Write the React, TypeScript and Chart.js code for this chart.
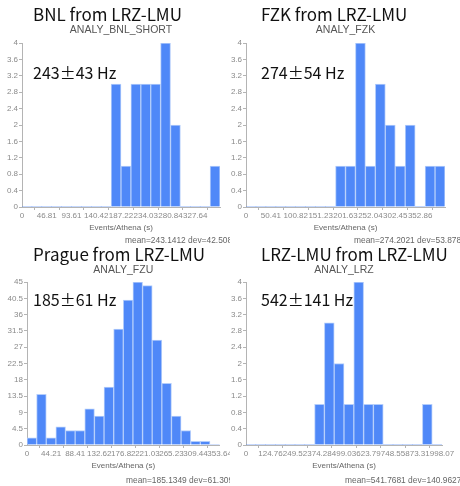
import React, { useEffect, useRef } from "react";
import { Chart, registerables } from "chart.js";

Chart.register(...registerables);

// ---- data ----
const BNL_COUNTS = [0, 0, 0, 0, 0, 0, 0, 0, 0, 3, 1, 3, 3, 3, 4, 2, 0, 0, 0, 1];
const BNL_XMAX = 374.45;
const BNL_XTICKS = ["0", "46.81", "93.61", "140.42", "187.22", "234.03", "280.84", "327.64"];

const FZK_COUNTS = [0, 0, 0, 0, 0, 0, 0, 0, 0, 1, 1, 4, 1, 3, 2, 1, 2, 0, 1, 1];
const FZK_XMAX = 403.27;
const FZK_XTICKS = ["0", "50.41", "100.82", "151.23", "201.63", "252.04", "302.45", "352.86"];

const FZU_COUNTS = [2, 14, 2, 5, 4, 4, 10, 8, 16, 32, 40, 45, 44, 29, 17, 8, 4, 1, 1, 0];
const FZU_XMAX = 353.64;
const FZU_XTICKS = ["0", "44.21", "88.41", "132.62", "176.82", "221.03", "265.23", "309.44", "353.64"];

const LRZ_COUNTS = [0, 0, 0, 0, 0, 0, 0, 1, 3, 2, 1, 4, 1, 1, 0, 0, 0, 0, 1, 0];
const LRZ_XMAX = 998.07;
const LRZ_XTICKS = ["0", "124.76", "249.52", "374.28", "499.03", "623.79", "748.55", "873.31", "998.07"];

const YTICKS_SMALL = ["0", "0.4", "0.8", "1.2", "1.6", "2", "2.4", "2.8", "3.2", "3.6", "4"];
const YTICKS_FZU = ["0", "4.5", "9", "13.5", "18", "22.5", "27", "31.5", "36", "40.5", "45"];

const TITLES = ["BNL from LRZ-LMU", "FZK from LRZ-LMU", "Prague from LRZ-LMU", "LRZ-LMU from LRZ-LMU"];
const SUBTITLES = ["ANALY_BNL_SHORT", "ANALY_FZK", "ANALY_FZU", "ANALY_LRZ"];
const RATES = ["243±43 Hz", "274±54 Hz", "185±61 Hz", "542±141 Hz"];
const STATS = [
  "mean=243.1412 dev=42.5083",
  "mean=274.2021 dev=53.8782",
  "mean=185.1349 dev=61.3093",
  "mean=541.7681 dev=140.9627",
];
const X_TITLE = "Events/Athena (s)";

// ---- layout (not data) ----
type Panel = {
  counts: number[];
  xMax: number;
  xTicks: string[];
  yTicks: string[];
  left: number;
  top: number;
  w: number;
  h: number;
  area: { l: number; r: number; t: number; b: number };
  rateY: number;
  statsX: number;
};

const PANELS: Panel[] = [
  { counts: BNL_COUNTS, xMax: BNL_XMAX, xTicks: BNL_XTICKS, yTicks: YTICKS_SMALL, left: 0, top: 0, w: 230, h: 246, area: { l: 22, r: 220, t: 43, b: 207 }, rateY: 79, statsX: 125 },
  { counts: FZK_COUNTS, xMax: FZK_XMAX, xTicks: FZK_XTICKS, yTicks: YTICKS_SMALL, left: 228, top: 0, w: 232, h: 246, area: { l: 18, r: 217, t: 43, b: 207 }, rateY: 79, statsX: 126 },
  { counts: FZU_COUNTS, xMax: FZU_XMAX, xTicks: FZU_XTICKS, yTicks: YTICKS_FZU, left: 0, top: 240, w: 230, h: 246, area: { l: 27, r: 219.6, t: 42, b: 205 }, rateY: 66, statsX: 126 },
  { counts: LRZ_COUNTS, xMax: LRZ_XMAX, xTicks: LRZ_XTICKS, yTicks: YTICKS_SMALL, left: 228, top: 240, w: 232, h: 246, area: { l: 18, r: 214, t: 42, b: 205 }, rateY: 66, statsX: 117 },
];

const BIG_FONT = '"Noto Sans CJK JP", "Noto Sans", sans-serif';
const SMALL_FONT = '"Liberation Sans", Arial, sans-serif';
const AXIS_COLOR = "#b4b4b4";
const TICK_COLOR = "#8a8a8a";

function HistPanel({ idx }: { idx: number }) {
  const ref = useRef<HTMLCanvasElement | null>(null);
  const p = PANELS[idx];
  useEffect(() => {
    if (!ref.current) return;
    const n = p.counts.length;
    const binW = p.xMax / n;
    const yMax = parseFloat(p.yTicks[p.yTicks.length - 1]);
    const textPlugin = {
      id: "panelText" + idx,
      afterDraw(chart: any) {
        const ctx = chart.ctx;
        const ca = chart.chartArea;
        const cx = (ca.left + ca.right) / 2;
        ctx.save();
        ctx.textBaseline = "alphabetic";
        // title
        ctx.fillStyle = "#111";
        ctx.font = `17px ${BIG_FONT}`;
        ctx.textAlign = "left";
        ctx.fillText(TITLES[idx], 33, 21);
        // subtitle
        ctx.fillStyle = "#555";
        ctx.font = `10.5px ${SMALL_FONT}`;
        ctx.textAlign = "center";
        ctx.fillText(SUBTITLES[idx], cx, 33);
        // rate
        ctx.fillStyle = "#111";
        ctx.font = `16px ${BIG_FONT}`;
        ctx.textAlign = "left";
        ctx.fillText(RATES[idx], 33, p.rateY);
        // x title
        ctx.fillStyle = "#666";
        ctx.font = `8px ${SMALL_FONT}`;
        ctx.textAlign = "center";
        ctx.fillText(X_TITLE, cx, ca.bottom + 23);
        // stats
        ctx.font = `8.4px ${SMALL_FONT}`;
        ctx.textAlign = "left";
        ctx.fillText(STATS[idx], p.statsX, 243);
        ctx.restore();
      },
    };
    const chart = new Chart(ref.current, {
      type: "bar",
      data: {
        datasets: [
          {
            data: p.counts.map((c, i) => ({ x: (i + 0.5) * binW, y: c })),
            backgroundColor: "#4f88f8",
            borderColor: "#b3cdfb",
            borderWidth: (ctx: any) => (ctx.raw && ctx.raw.y > 0 ? 1 : 0),
            borderSkipped: "bottom",
            barPercentage: 1,
            categoryPercentage: 1,
          } as any,
        ],
      },
      options: {
        animation: false,
        responsive: false,
        maintainAspectRatio: false,
        layout: { padding: { left: 0, right: p.w - p.area.r, top: p.area.t, bottom: 0 } },
        plugins: { legend: { display: false }, tooltip: { enabled: false }, title: { display: false } },
        scales: {
          x: {
            type: "linear",
            min: 0,
            max: p.xMax,
            offset: false,
            grid: { display: true, drawOnChartArea: false, tickLength: 3, color: AXIS_COLOR },
            border: { display: true, color: AXIS_COLOR },
            ticks: {
              autoSkip: false,
              maxRotation: 0,
              minRotation: 0,
              padding: 1,
              color: TICK_COLOR,
              font: { size: 8, family: SMALL_FONT },
              callback: (v: any) => {
                const f = p.xTicks.find((t) => Math.abs(parseFloat(t) - v) < 1e-6);
                return f ?? "";
              },
            },
            afterBuildTicks: (s: any) => {
              s.ticks = p.xTicks.map((t) => ({ value: parseFloat(t) }));
            },
            afterFit: (s: any) => {
              s.height = p.h - p.area.b;
              s.paddingLeft = 0;
              s.paddingRight = 0;
            },
          },
          y: {
            min: 0,
            max: yMax,
            grid: { display: true, drawOnChartArea: false, tickLength: 3, color: AXIS_COLOR },
            border: { display: true, color: AXIS_COLOR },
            ticks: {
              padding: 1,
              color: TICK_COLOR,
              font: { size: 8, family: SMALL_FONT },
              callback: (v: any) => {
                const f = p.yTicks.find((t) => Math.abs(parseFloat(t) - v) < 1e-6);
                return f ?? "";
              },
            },
            afterBuildTicks: (s: any) => {
              s.ticks = p.yTicks.map((t) => ({ value: parseFloat(t) }));
            },
            afterFit: (s: any) => {
              s.width = p.area.l;
              s.paddingTop = 0;
              s.paddingBottom = 0;
            },
          },
        },
      } as any,
      plugins: [textPlugin],
    });
    return () => chart.destroy();
  }, []);
  return (
    <canvas
      ref={ref}
      width={p.w}
      height={p.h}
      style={{ position: "absolute", left: p.left, top: p.top, width: p.w, height: p.h }}
    />
  );
}

export default function App() {
  return (
    <div style={{ position: "absolute", left: 0, top: 0, width: 460, height: 486, background: "#fff", overflow: "hidden" }}>
      {PANELS.map((_, i) => (
        <HistPanel key={i} idx={i} />
      ))}
    </div>
  );
}
